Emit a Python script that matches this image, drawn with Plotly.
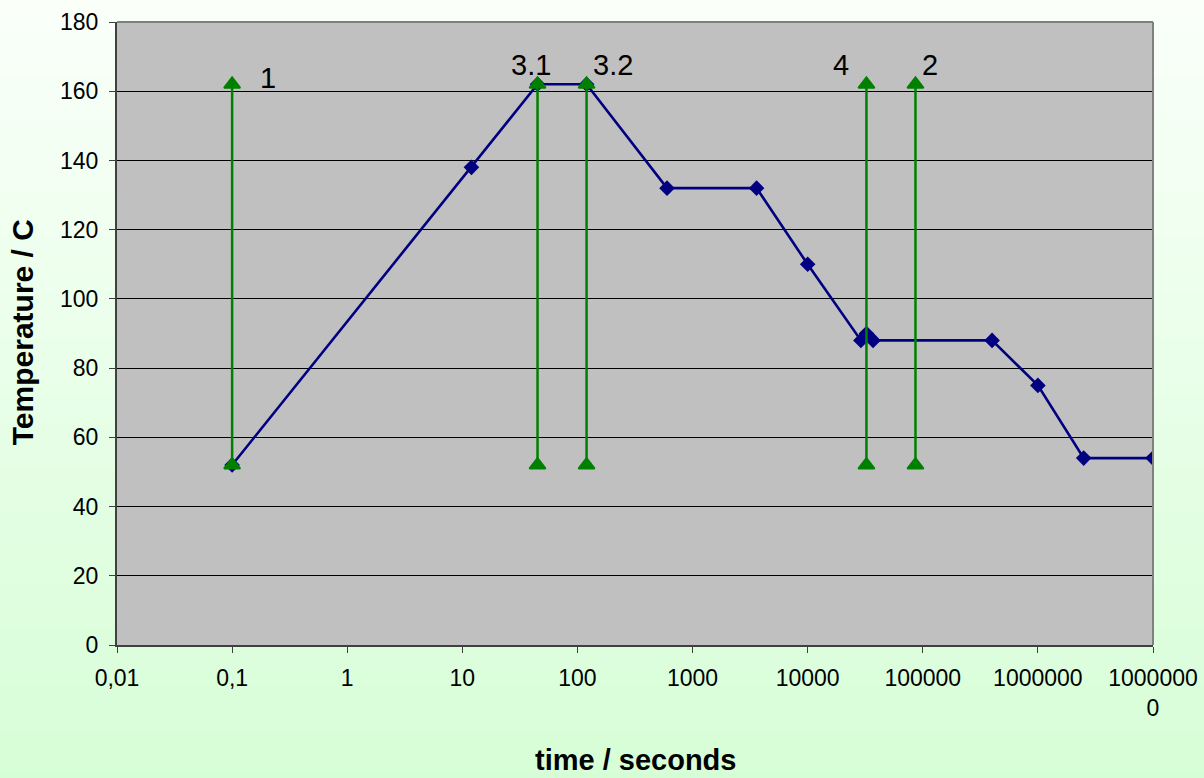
import numpy as np
import plotly.graph_objects as go

# ---- data ----
temp_time = [0.1, 12, 45, 120, 600, 3600, 10000, 29000, 32400, 37000, 400000, 1000000, 2500000, 10000000]
temp_val = [52, 138, 162, 162, 132, 132, 110, 88, 90, 88, 88, 75, 54, 54]

event_time = [0.1, 45, 120, 32400, 86400]
event_low = [52, 52, 52, 52, 52]
event_high = [162, 162, 162, 162, 162]
event_label = ["1", "3.1", "3.2", "4", "2"]

x_tickvals = [0.01, 0.1, 1, 10, 100, 1000, 10000, 100000, 1000000, 10000000]
x_ticktext = ["0,01", "0,1", "1", "10", "100", "1000", "10000", "100000", "1000000", "1000000<br>0"]

x_title = "time / seconds"
y_title = "Temperature / C"

# ---- figure ----
FONT = "Liberation Sans, Arial, sans-serif"
fig = go.Figure()

fig.add_trace(go.Scatter(
    x=temp_time, y=temp_val, mode="lines+markers",
    line=dict(color="#000080", width=2.6),
    marker=dict(symbol="diamond", size=12, color="#000080"),
    showlegend=False, hoverinfo="x+y"))

gx, gy = [], []
for t, lo, hi in zip(event_time, event_low, event_high):
    gx += [t, t, None]
    gy += [lo, hi, None]
fig.add_trace(go.Scatter(
    x=gx, y=gy, mode="lines+markers",
    line=dict(color="#008000", width=2.5),
    marker=dict(symbol="triangle-up", size=14, color="#008000",
                line=dict(color="#008000", width=2)),
    showlegend=False, hoverinfo="x+y"))

# label offsets (pixels) relative to the event line top
label_dx = [36, -7, 26, -25, 15]
label_dy = [6, 19, 19, 19, 19]
for t, hi, lab, dx, dy in zip(event_time, event_high, event_label, label_dx, label_dy):
    fig.add_annotation(x=np.log10(t), y=hi, text=lab, showarrow=False,
                       xref="x", yref="y", xshift=dx, yshift=dy,
                       font=dict(family=FONT, size=29, color="#000000"))

# axis titles
fig.add_annotation(x=0.5, y=-0.2119, xref="paper", yref="paper", text="<b>%s</b>" % x_title,
                   showarrow=False, xanchor="center", yanchor="bottom", borderpad=0,
                   font=dict(family=FONT, size=29, color="#000000"))
fig.add_annotation(x=-0.0917, y=0.502, xref="paper", yref="paper", text="<b>%s</b>" % y_title,
                   showarrow=False, xanchor="center", yanchor="middle", textangle=-90,
                   font=dict(family=FONT, size=30, color="#000000"))

# background gradient (paper), vertical
shapes = []
n = 60
top = np.array([0xFC, 0xFF, 0xFC])
bot = np.array([0xD4, 0xFE, 0xD4])
for i in range(n):
    f = (i + 0.5) / n
    c = top * (1 - f) + bot * f
    col = "rgb(%d,%d,%d)" % tuple(c.round().astype(int))
    shapes.append(dict(type="rect", xref="paper", yref="paper",
                       x0=-0.2, x1=1.2, y0=1.1 - (i + 1) * 1.4 / n - 0.01, y1=1.1 - i * 1.4 / n,
                       fillcolor=col, line=dict(width=0), layer="below"))
# plot area
shapes.append(dict(type="rect", xref="x domain", yref="y domain", x0=0, x1=1, y0=0, y1=1,
                   fillcolor="#C0C0C0", line=dict(width=0), layer="below"))
# top and right border
shapes.append(dict(type="line", xref="x domain", yref="y domain", x0=0, x1=1, y0=1, y1=1,
                   line=dict(color="#808080", width=2), layer="above"))
shapes.append(dict(type="line", xref="x domain", yref="y domain", x0=1, x1=1, y0=0, y1=1,
                   line=dict(color="#808080", width=2), layer="above"))

fig.update_layout(
    width=1204, height=778, autosize=False,
    margin=dict(l=117, r=51, t=22, b=133, autoexpand=False),
    paper_bgcolor="#E8FFE8", plot_bgcolor="#C0C0C0",
    font=dict(family=FONT, size=23, color="#000000"),
    shapes=shapes,
    xaxis=dict(type="log", range=[-2, 7], tickvals=x_tickvals, ticktext=x_ticktext,
               showgrid=False, zeroline=False, showline=True, linecolor="#404040", linewidth=2,
               ticks="outside", ticklen=6, tickcolor="#404040", ticklabelstandoff=5,
               automargin=False, tickfont=dict(family=FONT, size=23)),
    yaxis=dict(range=[0, 180], dtick=20, showgrid=True, gridcolor="#000000", gridwidth=1,
               zeroline=False, showline=True, linecolor="#404040", linewidth=2,
               ticks="outside", ticklen=6, tickcolor="#404040", ticklabelstandoff=6,
               automargin=False, tickfont=dict(family=FONT, size=23)),
)

fig.write_html("out.html",
               config={"responsive": False, "displayModeBar": False},
               post_script="document.body.style.margin='0';document.body.style.overflow='hidden';")
